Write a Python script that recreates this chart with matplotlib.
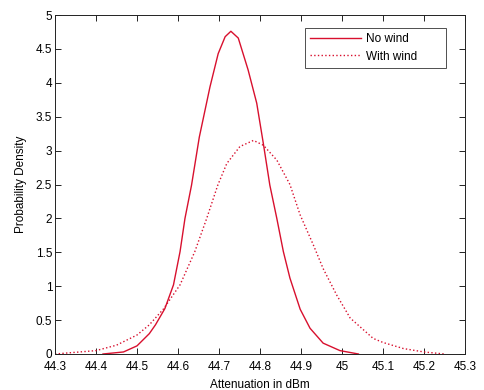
import matplotlib
matplotlib.use("Agg")
import matplotlib.pyplot as plt

plt.rcParams['font.family'] = ['Liberation Sans', 'DejaVu Sans']

# No wind (solid)
x_nowind = [44.417, 44.467, 44.50, 44.53, 44.545, 44.568, 44.589, 44.605, 44.617,
            44.633, 44.652, 44.678, 44.698, 44.715, 44.729, 44.747, 44.771,
            44.792, 44.808, 44.824, 44.841, 44.857, 44.873, 44.898, 44.922,
            44.954, 44.995, 45.04]
y_nowind = [0.0, 0.03, 0.12, 0.30, 0.43, 0.67, 1.02, 1.51, 2.0,
            2.49, 3.2, 3.94, 4.43, 4.68, 4.76, 4.66, 4.19,
            3.70, 3.11, 2.49, 2.0, 1.51, 1.12, 0.66, 0.38,
            0.16, 0.05, 0.0]

# With wind (dotted)
x_wind = [44.30, 44.40, 44.45, 44.50, 44.53, 44.564, 44.605, 44.641, 44.670,
          44.697, 44.719, 44.751, 44.784, 44.808, 44.841, 44.873, 44.898,
          44.93, 44.954, 44.987, 45.02, 45.076, 45.10, 45.15, 45.20, 45.25]
y_wind = [0.0, 0.05, 0.13, 0.28, 0.43, 0.66, 1.02, 1.51, 2.0,
          2.49, 2.81, 3.06, 3.15, 3.08, 2.86, 2.50, 2.05,
          1.61, 1.26, 0.87, 0.53, 0.23, 0.17, 0.08, 0.03, 0.0]

xticks = [44.3, 44.4, 44.5, 44.6, 44.7, 44.8, 44.9, 45.0, 45.1, 45.2, 45.3]
xticklabels = ['44.3', '44.4', '44.5', '44.6', '44.7', '44.8', '44.9', '45', '45.1', '45.2', '45.3']
yticks = [0, 0.5, 1, 1.5, 2, 2.5, 3, 3.5, 4, 4.5, 5]
yticklabels = ['0', '0.5', '1', '1.5', '2', '2.5', '3', '3.5', '4', '4.5', '5']

W, H = 484, 390
fig = plt.figure(figsize=(W / 100, H / 100), dpi=100)
ax = fig.add_axes([55 / W, 1 - 354 / H, (465 - 55) / W, (354 - 15) / H])

color = '#d8102e'
ax.plot(x_nowind, y_nowind, '-', color=color, lw=1.0, label='No wind')
ax.plot(x_wind, y_wind, ':', color=color, lw=1.0, label='With wind')

ax.set_xlim(44.3, 45.3)
ax.set_ylim(0, 5)
ax.set_xticks(xticks)
ax.set_xticklabels(xticklabels)
ax.set_yticks(yticks)
ax.set_yticklabels(yticklabels)
ax.tick_params(direction='in', top=True, right=True, labelsize=8.5, length=4,
               width=0.6)
ax.tick_params(axis='x', pad=5)
ax.tick_params(axis='y', pad=2)
for s in ax.spines.values():
    s.set_linewidth(0.7)
    s.set_color('#222222')

ax.set_xlabel('Attenuation in dBm', fontsize=8.5, labelpad=4)
ax.set_ylabel('Probability Density', fontsize=8.5, labelpad=6)

leg = ax.legend(loc='upper left', bbox_to_anchor=(305 / W, 1 - 69 / H, 141 / W, 41 / H),
                bbox_transform=fig.transFigure, mode='expand', borderaxespad=0,
                fontsize=8.5, frameon=True, fancybox=False, edgecolor='#222222',
                handlelength=4.3, borderpad=0.45, labelspacing=0.45,
                handletextpad=0.4)
leg.get_frame().set_linewidth(0.7)

fig.savefig('out.png', dpi=100, facecolor='white')
